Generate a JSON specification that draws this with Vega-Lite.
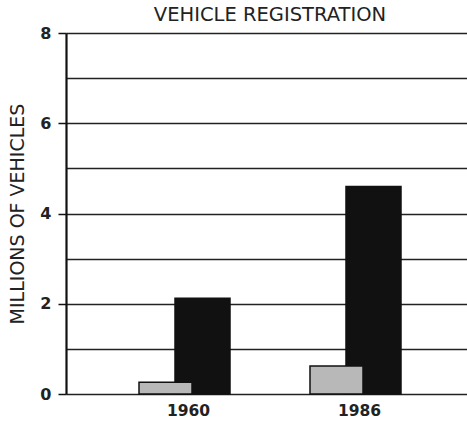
{
  "$schema": "https://vega.github.io/schema/vega-lite/v6.json",
  "width": 408,
  "height": 361,
  "autosize": "none",
  "padding": {"left": 66, "top": 33, "right": 0, "bottom": 30},
  "background": "white",
  "title": {
    "text": "VEHICLE REGISTRATION",
    "font": "DejaVu Sans",
    "fontSize": 19.5,
    "fontWeight": "normal",
    "color": "#222",
    "offset": 0,
    "anchor": "middle"
  },
  "data": {
    "values": [
      {"year": "1960", "type": "black", "value": 2.12},
      {"year": "1986", "type": "black", "value": 4.6},
      {"year": "1960", "type": "dotted", "value": 0.26},
      {"year": "1986", "type": "dotted", "value": 0.62}
    ]
  },
  "encoding": {
    "x": {
      "field": "year",
      "type": "nominal",
      "scale": {"paddingInner": 0.5, "paddingOuter": 0.443},
      "axis": {
        "title": null,
        "domain": false,
        "ticks": false,
        "labelAngle": 0,
        "labelFont": "DejaVu Sans",
        "labelFontWeight": "bold",
        "labelFontSize": 15.5,
        "labelColor": "#222",
        "labelPadding": 9,
        "labelOffset": 4
      }
    },
    "y": {
      "field": "value",
      "type": "quantitative",
      "scale": {"domain": [0, 8], "nice": false},
      "axis": {
        "values": [0, 1, 2, 3, 4, 5, 6, 7, 8],
        "grid": true,
        "gridColor": "#222",
        "gridWidth": 1.3,
        "gridOpacity": 1,
        "domainColor": "#111",
        "domainWidth": 2.2,
        "tickColor": "#111",
        "tickWidth": 1.5,
        "tickSize": 8,
        "tickOpacity": {"condition": {"test": "datum.value % 2 === 0", "value": 1}, "value": 0},
        "labelExpr": "datum.value % 2 === 0 ? datum.label : ''",
        "labelOverlap": false,
        "labelFont": "DejaVu Sans",
        "labelFontWeight": "bold",
        "labelFontSize": 16,
        "labelColor": "#222",
        "labelPadding": 7,
        "title": "MILLIONS OF VEHICLES",
        "titleFont": "DejaVu Sans",
        "titleFontSize": 19,
        "titleFontWeight": "normal",
        "titleColor": "#222",
        "titlePadding": 12
      }
    }
  },
  "layer": [
    {
      "transform": [{"filter": "datum.type === 'black'"}],
      "mark": {"type": "bar", "width": 55, "xOffset": 18, "fill": "#111111", "stroke": "#111", "strokeWidth": 1.5}
    },
    {
      "transform": [{"filter": "datum.type === 'dotted'"}],
      "mark": {"type": "bar", "width": 53, "xOffset": -19, "fill": "#b8b8b8", "stroke": "#111", "strokeWidth": 1.5}
    }
  ],
  "config": {"view": {"stroke": null}}
}
